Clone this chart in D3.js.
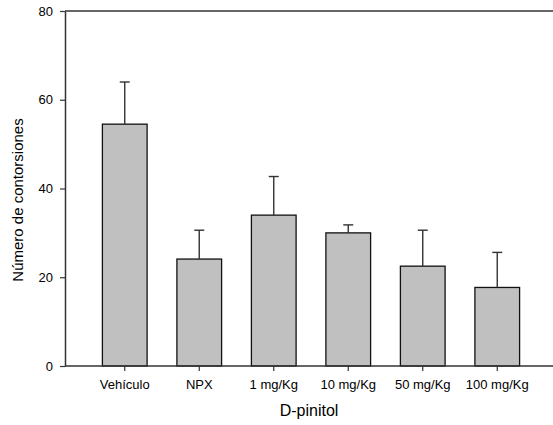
<!DOCTYPE html>
<html>
<head>
<meta charset="utf-8">
<script src="https://cdn.jsdelivr.net/npm/d3@7"></script>
<style>
  body { margin: 0; background: #fff; font-family: Arial, "Liberation Sans", sans-serif; }
</style>
</head>
<body>
<div class="chart"></div>
<script>
const categories = ["Vehículo", "NPX", "1 mg/Kg", "10 mg/Kg", "50 mg/Kg", "100 mg/Kg"];
const means = [54.5, 24.1, 34.0, 30.0, 22.5, 17.7];
const errors = [9.5, 6.5, 8.7, 1.8, 8.1, 7.9];
const yTicks = [0, 20, 40, 60, 80];

const W = 553, H = 425;
const axisLeft = 65, axisRight = 553, plotTop = 11, plotBottom = 366;

const svg = d3.select(".chart")
    .append("svg")
    .attr("width", W)
    .attr("height", H);

const x = d3.scaleBand()
    .domain(categories)
    .range([87.5, 534.5])
    .paddingInner(0.4)
    .paddingOuter(0.2);

const y = d3.scaleLinear()
    .domain([0, 80])
    .range([plotBottom, plotTop]);

// bars
svg.append("g")
    .selectAll("rect")
    .data(means)
    .enter()
    .append("rect")
    .attr("x", (d, i) => x(categories[i]))
    .attr("y", d => y(d))
    .attr("width", x.bandwidth())
    .attr("height", d => y(0) - y(d))
    .attr("fill", "#c0c0c0")
    .attr("stroke", "#111")
    .attr("stroke-width", 1.3);

// error bars (upper only)
const eb = svg.append("g")
    .attr("stroke", "#333")
    .attr("stroke-width", 1.4);
means.forEach((m, i) => {
    const cx = x(categories[i]) + x.bandwidth() / 2;
    eb.append("line")
        .attr("x1", cx).attr("x2", cx)
        .attr("y1", y(m)).attr("y2", y(m + errors[i]));
    eb.append("line")
        .attr("x1", cx - 5).attr("x2", cx + 5)
        .attr("y1", y(m + errors[i])).attr("y2", y(m + errors[i]));
});

// y axis
const yAxis = svg.append("g")
    .attr("transform", `translate(${axisLeft},0)`)
    .call(d3.axisLeft(y).tickValues(yTicks).tickSize(5).tickPadding(7).tickSizeOuter(0));
yAxis.select(".domain").attr("stroke", "#333").attr("stroke-width", 1.5);
yAxis.selectAll(".tick line").attr("stroke", "#333").attr("stroke-width", 1.2);
yAxis.selectAll("text")
    .attr("font-family", "Arial, 'Liberation Sans', sans-serif")
    .attr("font-size", 13)
    .attr("fill", "#000");

// x axis
const xAxis = svg.append("g")
    .attr("transform", `translate(0,${plotBottom})`)
    .call(d3.axisBottom(x).tickSize(5).tickPadding(9).tickSizeOuter(0));
xAxis.select(".domain").remove();
xAxis.selectAll(".tick line").attr("stroke", "#333").attr("stroke-width", 1.2);
xAxis.selectAll("text")
    .attr("font-family", "Arial, 'Liberation Sans', sans-serif")
    .attr("font-size", 13)
    .attr("fill", "#000");

// frame lines (bottom and top)
svg.append("line")
    .attr("x1", axisLeft).attr("x2", axisRight)
    .attr("y1", plotBottom).attr("y2", plotBottom)
    .attr("stroke", "#333").attr("stroke-width", 1.5);
svg.append("line")
    .attr("x1", axisLeft).attr("x2", axisRight)
    .attr("y1", plotTop).attr("y2", plotTop)
    .attr("stroke", "#333").attr("stroke-width", 1.5);

// axis titles
svg.append("text")
    .attr("x", 309)
    .attr("y", 416)
    .attr("text-anchor", "middle")
    .attr("font-family", "Arial, 'Liberation Sans', sans-serif")
    .attr("font-size", 16)
    .text("D-pinitol");

svg.append("text")
    .attr("transform", "translate(23,200) rotate(-90)")
    .attr("text-anchor", "middle")
    .attr("font-family", "Arial, 'Liberation Sans', sans-serif")
    .attr("font-size", 15)
    .text("Número de contorsiones");
</script>
</body>
</html>
